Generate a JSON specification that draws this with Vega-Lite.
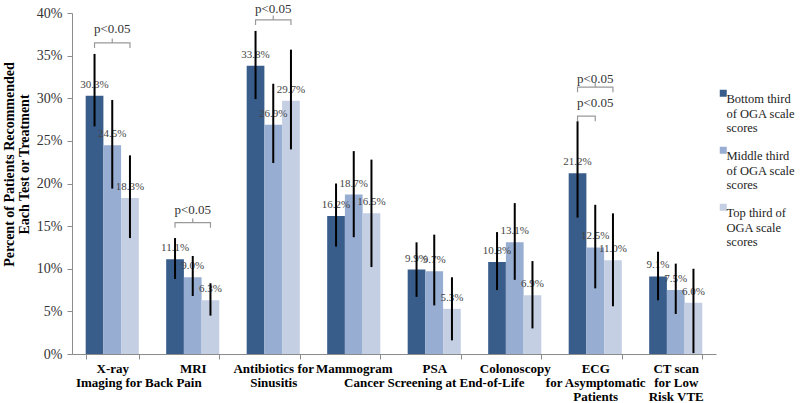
{
  "$schema": "https://vega.github.io/schema/vega-lite/v6.json",
  "width": 644,
  "height": 341,
  "autosize": {"type": "none"},
  "padding": {"left": 72, "top": 13, "right": 84, "bottom": 49},
  "background": "white",
  "config": {"view": {"stroke": null}, "font": "Liberation Serif"},
  "datasets": {
    "bars": [
      {"cat": "X-ray", "series": "Bottom third", "value": 0.303, "lo": 0.267, "hi": 0.352},
      {"cat": "X-ray", "series": "Middle third", "value": 0.245, "lo": 0.194, "hi": 0.298},
      {"cat": "X-ray", "series": "Top third", "value": 0.183, "lo": 0.136, "hi": 0.233},
      {"cat": "MRI", "series": "Bottom third", "value": 0.111, "lo": 0.088, "hi": 0.136},
      {"cat": "MRI", "series": "Middle third", "value": 0.090, "lo": 0.068, "hi": 0.115},
      {"cat": "MRI", "series": "Top third", "value": 0.063, "lo": 0.045, "hi": 0.083},
      {"cat": "Antibiotics for Sinusitis", "series": "Bottom third", "value": 0.338, "lo": 0.299, "hi": 0.379},
      {"cat": "Antibiotics for Sinusitis", "series": "Middle third", "value": 0.269, "lo": 0.224, "hi": 0.317},
      {"cat": "Antibiotics for Sinusitis", "series": "Top third", "value": 0.297, "lo": 0.240, "hi": 0.357},
      {"cat": "Mammogram", "series": "Bottom third", "value": 0.162, "lo": 0.126, "hi": 0.200},
      {"cat": "Mammogram", "series": "Middle third", "value": 0.187, "lo": 0.137, "hi": 0.238},
      {"cat": "Mammogram", "series": "Top third", "value": 0.165, "lo": 0.102, "hi": 0.228},
      {"cat": "PSA", "series": "Bottom third", "value": 0.099, "lo": 0.067, "hi": 0.131},
      {"cat": "PSA", "series": "Middle third", "value": 0.097, "lo": 0.057, "hi": 0.140},
      {"cat": "PSA", "series": "Top third", "value": 0.053, "lo": 0.016, "hi": 0.090},
      {"cat": "Colonoscopy", "series": "Bottom third", "value": 0.108, "lo": 0.075, "hi": 0.143},
      {"cat": "Colonoscopy", "series": "Middle third", "value": 0.131, "lo": 0.087, "hi": 0.177},
      {"cat": "Colonoscopy", "series": "Top third", "value": 0.069, "lo": 0.030, "hi": 0.109},
      {"cat": "ECG for Asymptomatic Patients", "series": "Bottom third", "value": 0.212, "lo": 0.160, "hi": 0.273},
      {"cat": "ECG for Asymptomatic Patients", "series": "Middle third", "value": 0.125, "lo": 0.077, "hi": 0.175},
      {"cat": "ECG for Asymptomatic Patients", "series": "Top third", "value": 0.110, "lo": 0.056, "hi": 0.165},
      {"cat": "CT scan for Low Risk VTE", "series": "Bottom third", "value": 0.091, "lo": 0.063, "hi": 0.120},
      {"cat": "CT scan for Low Risk VTE", "series": "Middle third", "value": 0.075, "lo": 0.047, "hi": 0.106},
      {"cat": "CT scan for Low Risk VTE", "series": "Top third", "value": 0.060, "lo": 0.001, "hi": 0.100}
    ],
    "brackets": [
      {"id": "xray", "cat": "X-ray", "series": "Bottom third", "level": 0.359, "ord": 1},
      {"id": "xray", "cat": "X-ray", "series": "Bottom third", "level": 0.365, "ord": 2},
      {"id": "xray", "cat": "X-ray", "series": "Middle third", "level": 0.365, "ord": 3},
      {"id": "xray", "cat": "X-ray", "series": "Middle third", "level": 0.370, "ord": 4},
      {"id": "xray", "cat": "X-ray", "series": "Middle third", "level": 0.365, "ord": 5},
      {"id": "xray", "cat": "X-ray", "series": "Top third", "level": 0.365, "ord": 6},
      {"id": "xray", "cat": "X-ray", "series": "Top third", "level": 0.359, "ord": 7},
      {"id": "mri", "cat": "MRI", "series": "Bottom third", "level": 0.148, "ord": 1},
      {"id": "mri", "cat": "MRI", "series": "Bottom third", "level": 0.154, "ord": 2},
      {"id": "mri", "cat": "MRI", "series": "Middle third", "level": 0.154, "ord": 3},
      {"id": "mri", "cat": "MRI", "series": "Middle third", "level": 0.159, "ord": 4},
      {"id": "mri", "cat": "MRI", "series": "Middle third", "level": 0.154, "ord": 5},
      {"id": "mri", "cat": "MRI", "series": "Top third", "level": 0.154, "ord": 6},
      {"id": "mri", "cat": "MRI", "series": "Top third", "level": 0.148, "ord": 7},
      {"id": "abx", "cat": "Antibiotics for Sinusitis", "series": "Bottom third", "level": 0.386, "ord": 1},
      {"id": "abx", "cat": "Antibiotics for Sinusitis", "series": "Bottom third", "level": 0.392, "ord": 2},
      {"id": "abx", "cat": "Antibiotics for Sinusitis", "series": "Middle third", "level": 0.392, "ord": 3},
      {"id": "abx", "cat": "Antibiotics for Sinusitis", "series": "Middle third", "level": 0.397, "ord": 4},
      {"id": "abx", "cat": "Antibiotics for Sinusitis", "series": "Middle third", "level": 0.392, "ord": 5},
      {"id": "abx", "cat": "Antibiotics for Sinusitis", "series": "Top third", "level": 0.392, "ord": 6},
      {"id": "abx", "cat": "Antibiotics for Sinusitis", "series": "Top third", "level": 0.386, "ord": 7},
      {"id": "ecg1", "cat": "ECG for Asymptomatic Patients", "series": "Bottom third", "level": 0.307, "ord": 1},
      {"id": "ecg1", "cat": "ECG for Asymptomatic Patients", "series": "Bottom third", "level": 0.313, "ord": 2},
      {"id": "ecg1", "cat": "ECG for Asymptomatic Patients", "series": "Middle third", "level": 0.313, "ord": 3},
      {"id": "ecg1", "cat": "ECG for Asymptomatic Patients", "series": "Middle third", "level": 0.318, "ord": 4},
      {"id": "ecg1", "cat": "ECG for Asymptomatic Patients", "series": "Middle third", "level": 0.313, "ord": 5},
      {"id": "ecg1", "cat": "ECG for Asymptomatic Patients", "series": "Top third", "level": 0.313, "ord": 6},
      {"id": "ecg1", "cat": "ECG for Asymptomatic Patients", "series": "Top third", "level": 0.307, "ord": 7},
      {"id": "ecg2", "cat": "ECG for Asymptomatic Patients", "series": "Bottom third", "level": 0.273, "ord": 1},
      {"id": "ecg2", "cat": "ECG for Asymptomatic Patients", "series": "Bottom third", "level": 0.279, "ord": 2},
      {"id": "ecg2", "cat": "ECG for Asymptomatic Patients", "series": "Middle third", "level": 0.279, "ord": 3},
      {"id": "ecg2", "cat": "ECG for Asymptomatic Patients", "series": "Middle third", "level": 0.273, "ord": 4}
    ],
    "pvals": [
      {"cat": "X-ray", "series": "Middle third", "level": 0.381, "text": "p<0.05"},
      {"cat": "MRI", "series": "Middle third", "level": 0.169, "text": "p<0.05"},
      {"cat": "Antibiotics for Sinusitis", "series": "Middle third", "level": 0.405, "text": "p<0.05"},
      {"cat": "ECG for Asymptomatic Patients", "series": "Middle third", "level": 0.323, "text": "p<0.05"},
      {"cat": "ECG for Asymptomatic Patients", "series": "Middle third", "level": 0.294, "text": "p<0.05"}
    ],
    "groupsEdge": [
      {"cat": "X-ray", "text": "Imaging for Back Pain"}
    ],
    "groupsMid": [
      {"cat": "PSA", "text": "Cancer Screening at End-of-Life"}
    ]
  },
  "layer": [
    {
      "data": {"name": "bars"},
      "mark": {"type": "bar"},
      "encoding": {
        "x": {
          "field": "cat", "type": "nominal",
          "scale": {
            "domain": ["X-ray", "MRI", "Antibiotics for Sinusitis", "Mammogram", "PSA", "Colonoscopy", "ECG for Asymptomatic Patients", "CT scan for Low Risk VTE"],
            "paddingInner": 0.34, "paddingOuter": 0.17
          },
          "axis": {
            "title": null,
            "labelAngle": 0,
            "domainColor": "#8c8c8c",
            "tickColor": "#8c8c8c",
            "tickSize": 5,
            "tickBand": "extent",
            "labelPadding": 3,
            "labelFont": "Liberation Serif",
            "labelFontWeight": "bold",
            "labelFontSize": 13,
            "labelColor": "#000000",
            "labelBaseline": "top",
            "labelLineHeight": 14,
            "labelLimit": 0,
            "labelExpr": "datum.value == 'Antibiotics for Sinusitis' ? ['Antibiotics for', 'Sinusitis'] : datum.value == 'ECG for Asymptomatic Patients' ? ['ECG', 'for Asymptomatic', 'Patients'] : datum.value == 'CT scan for Low Risk VTE' ? ['CT scan', 'for Low', 'Risk VTE'] : datum.value"
          }
        },
        "xOffset": {"field": "series", "type": "nominal", "scale": {"domain": ["Bottom third", "Middle third", "Top third"]}},
        "y": {
          "field": "value", "type": "quantitative",
          "scale": {"domain": [0, 0.4]},
          "axis": {
            "title": ["Percent of Patients Recommended", "Each Test or Treatment"],
            "values": [0, 0.05, 0.1, 0.15, 0.2, 0.25, 0.3, 0.35, 0.4],
            "format": ".0%",
            "grid": false,
            "domainColor": "#8c8c8c",
            "tickColor": "#8c8c8c",
            "tickSize": 5,
            "labelPadding": 5,
            "labelFont": "Liberation Serif",
            "labelFontSize": 14,
            "labelColor": "#333333",
            "titleFont": "Liberation Serif",
            "titleFontSize": 14,
            "titleFontWeight": "bold",
            "titleColor": "#000000",
            "titleLineHeight": 15,
            "titlePadding": 5,
            "titleY": 151
          }
        },
        "color": {
          "field": "series", "type": "nominal",
          "scale": {"domain": ["Bottom third", "Middle third", "Top third"], "range": ["#385D8A", "#97ADD1", "#C5CFE4"]},
          "legend": {
            "title": null,
            "orient": "none",
            "legendX": 645,
            "legendY": 74,
            "symbolType": "square",
            "symbolSize": 49,
            "symbolStrokeWidth": 0,
            "labelFont": "Liberation Serif",
            "labelFontSize": 12.5,
            "labelColor": "#222222",
            "labelLimit": 0,
            "labelLineHeight": 16,
            "labelBaseline": "top",
            "labelOffset": -3,
            "rowPadding": 9,
            "labelExpr": "datum.label == 'Bottom third' ? ['Bottom third', 'of OGA scale', 'scores'] : datum.label == 'Middle third' ? ['Middle third', 'of OGA scale', 'scores'] : ['Top third of', 'OGA scale', 'scores']"
          }
        }
      }
    },
    {
      "data": {"name": "bars"},
      "mark": {"type": "text", "baseline": "bottom", "dy": -6, "fontSize": 11, "font": "Liberation Serif", "color": "#444444"},
      "encoding": {
        "x": {"field": "cat", "type": "nominal"},
        "xOffset": {"field": "series", "type": "nominal"},
        "y": {"field": "value", "type": "quantitative"},
        "text": {"field": "value", "type": "quantitative", "format": ".1%"}
      }
    },
    {
      "data": {"name": "bars"},
      "mark": {"type": "rule", "color": "#000000", "strokeWidth": 2},
      "encoding": {
        "x": {"field": "cat", "type": "nominal"},
        "xOffset": {"field": "series", "type": "nominal"},
        "y": {"field": "lo", "type": "quantitative"},
        "y2": {"field": "hi"}
      }
    },
    {
      "data": {"name": "brackets"},
      "mark": {"type": "line", "color": "#999999", "strokeWidth": 1.2},
      "encoding": {
        "x": {"field": "cat", "type": "nominal"},
        "xOffset": {"field": "series", "type": "nominal"},
        "y": {"field": "level", "type": "quantitative"},
        "detail": {"field": "id"},
        "order": {"field": "ord", "type": "quantitative"}
      }
    },
    {
      "data": {"name": "pvals"},
      "mark": {"type": "text", "baseline": "middle", "fontSize": 13, "font": "Liberation Serif", "color": "#333333"},
      "encoding": {
        "x": {"field": "cat", "type": "nominal"},
        "xOffset": {"field": "series", "type": "nominal"},
        "y": {"field": "level", "type": "quantitative"},
        "text": {"field": "text"}
      }
    },
    {
      "data": {"name": "groupsEdge"},
      "mark": {"type": "text", "baseline": "top", "dy": 23, "fontSize": 13, "font": "Liberation Serif", "fontWeight": "bold", "color": "#000000"},
      "encoding": {
        "x": {"field": "cat", "type": "nominal", "bandPosition": 1},
        "y": {"datum": 0, "type": "quantitative"},
        "text": {"field": "text"}
      }
    },
    {
      "data": {"name": "groupsMid"},
      "mark": {"type": "text", "baseline": "top", "dy": 23, "fontSize": 13, "font": "Liberation Serif", "fontWeight": "bold", "color": "#000000"},
      "encoding": {
        "x": {"field": "cat", "type": "nominal", "bandPosition": 0.5},
        "y": {"datum": 0, "type": "quantitative"},
        "text": {"field": "text"}
      }
    }
  ]
}
